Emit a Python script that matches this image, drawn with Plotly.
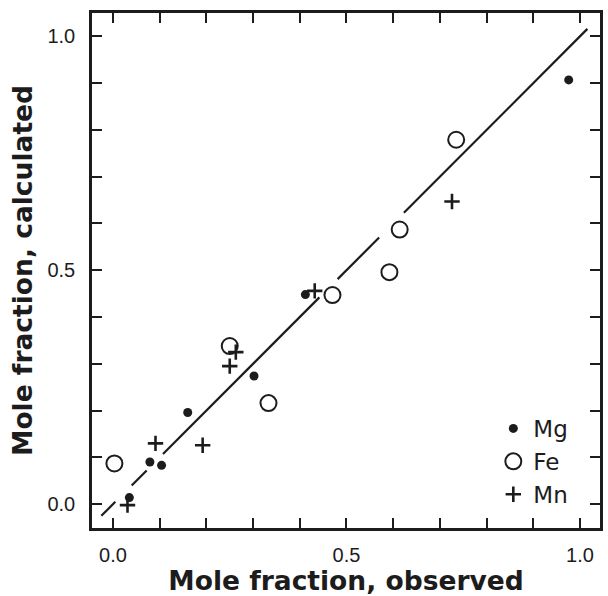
import plotly.graph_objects as go

# Data
mg_obs = [0.035, 0.079, 0.104, 0.160, 0.302, 0.412, 0.976]
mg_calc = [0.014, 0.090, 0.083, 0.196, 0.274, 0.448, 0.907]

fe_obs = [0.003, 0.250, 0.333, 0.470, 0.592, 0.614, 0.735]
fe_calc = [0.087, 0.338, 0.216, 0.447, 0.496, 0.587, 0.779]

mn_obs = [0.031, 0.091, 0.192, 0.250, 0.263, 0.432, 0.726]
mn_calc = [-0.002, 0.130, 0.126, 0.295, 0.325, 0.456, 0.647]

# 1:1 line, broken where it passes near symbols
line_x = [-0.025, 0.005, None, 0.040, 0.072, None, 0.107, 0.442, None, 0.481, 0.570, None, 0.623, 1.016]
line_y = [-0.025, 0.005, None, 0.040, 0.072, None, 0.107, 0.442, None, 0.481, 0.570, None, 0.623, 1.016]

tick_vals = [0.0, 0.1, 0.2, 0.3, 0.4, 0.5, 0.6, 0.7, 0.8, 0.9, 1.0]
tick_text = ["0.0", "", "", "", "", "0.5", "", "", "", "", "1.0"]

INK = "#1c1c1c"
TITLE_FONT = "DejaVu Sans, Verdana, sans-serif"
TICK_FONT = "Liberation Sans, Arial, sans-serif"

fig = go.Figure()
fig.add_trace(go.Scatter(x=line_x, y=line_y, mode="lines",
                         line=dict(color=INK, width=2.2), showlegend=False, hoverinfo="skip"))
fig.add_trace(go.Scatter(x=mg_obs, y=mg_calc, mode="markers", name="Mg",
                         marker=dict(symbol="circle", size=9, color=INK)))
fig.add_trace(go.Scatter(x=fe_obs, y=fe_calc, mode="markers", name="Fe",
                         marker=dict(symbol="circle-open", size=16, color=INK, line=dict(width=2))))
fig.add_trace(go.Scatter(x=mn_obs, y=mn_calc, mode="markers", name="Mn",
                         marker=dict(symbol="cross-thin-open", size=11, color=INK, line=dict(width=2.6, color=INK))))

axis_common = dict(
    tickmode="array", tickvals=tick_vals, ticktext=tick_text,
    ticks="inside", ticklen=10, tickwidth=2, tickcolor=INK,
    showline=True, linewidth=2.5, linecolor=INK, mirror="allticks",
    showgrid=False, zeroline=False,
    tickfont=dict(family=TICK_FONT, size=20, color=INK),
)

fig.update_layout(
    width=608, height=596,
    margin=dict(l=92, r=5, t=13, b=68),
    paper_bgcolor="white", plot_bgcolor="white",
    xaxis=dict(range=[-0.045, 1.043], ticklabelstandoff=7,
               title=dict(text="<b>Mole fraction, observed</b>", standoff=7,
                          font=dict(family=TITLE_FONT, size=26.5, color=INK)),
               **axis_common),
    yaxis=dict(range=[-0.051, 1.050], ticklabelstandoff=10,
               title=dict(text="<b>Mole fraction, calculated</b>", standoff=8,
                          font=dict(family=TITLE_FONT, size=26.5, color=INK)),
               **axis_common),
    legend=dict(x=0.79, y=0.235, xanchor="left", yanchor="top",
                bgcolor="rgba(0,0,0,0)", borderwidth=0,
                font=dict(family=TITLE_FONT, size=23, color=INK),
                tracegroupgap=0, itemsizing="trace"),
)

fig.write_html("out.html")
